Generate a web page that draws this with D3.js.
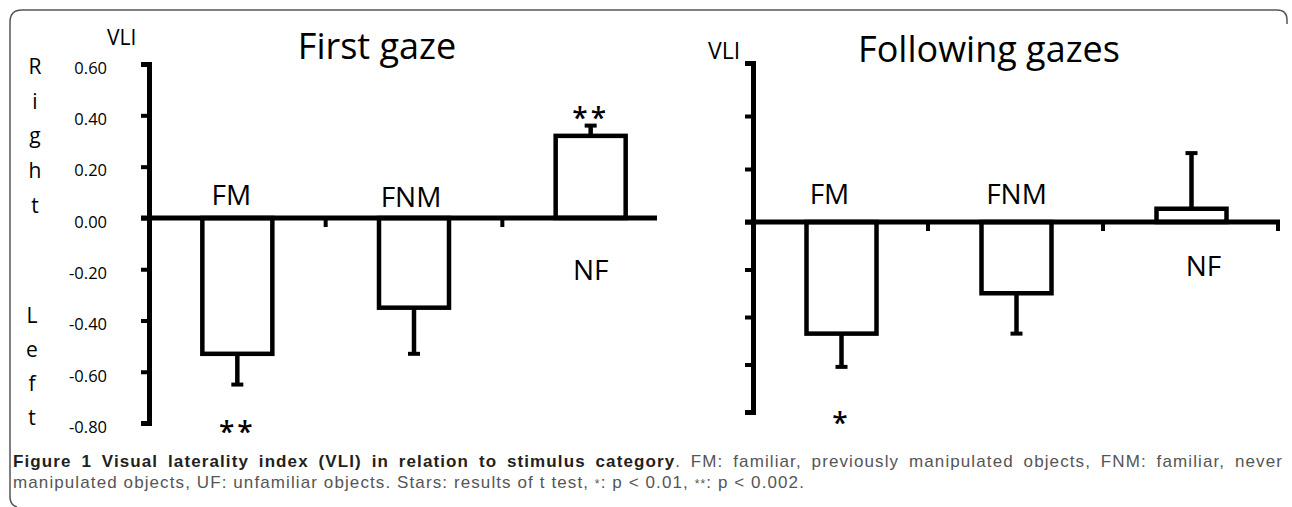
<!DOCTYPE html>
<html>
<head>
<meta charset="utf-8">
<script src="https://cdn.jsdelivr.net/npm/d3@7"></script>
<style>
  body { margin: 0; background: #fff; }
  text { font-family: "Open Sans", sans-serif; }
</style>
</head>
<body>
<div id="chart_div"></div>
<script>
// data
var categories = ["FM", "FNM", "NF"];
var firstMeans = [-0.53, -0.35, 0.32];
var firstErrors = [0.12, 0.18, 0.04];
var firstStars = ["**", "", "**"];
var followMeans = [-0.47, -0.30, 0.05];
var followErrors = [0.14, 0.17, 0.21];
var followStars = ["*", "", ""];
var tickValues = [0.6, 0.4, 0.2, 0, -0.2, -0.4, -0.6, -0.8];
var titles = ["First gaze", "Following gazes"];
var rightLetters = ["R", "i", "g", "h", "t"];
var leftLetters = ["L", "e", "f", "t"];
var captionBold = "Figure 1 Visual laterality index (VLI) in relation to stimulus category";
var captionRest = ". FM: familiar, previously manipulated objects, FNM: familiar, never";
var captionLine2 = ["manipulated objects, UF: unfamiliar objects. Stars: results of t test, ", "*", ": p < 0.01, ", "**", ": p < 0.002."];

var width = 1292, height = 507;

var svg = d3.select("#chart_div").append("svg")
    .attr("width", width)
    .attr("height", height);

// rounded frame
svg.append("path")
    .attr("d", "M1287,24 V20 Q1287,10 1277,10 H22 Q10,10 10,22 V497 Q10,505 17,507")
    .attr("fill", "none")
    .attr("stroke", "#555")
    .attr("stroke-width", 1.5);

function drawPanel(p, means, errors, stars) {
    var g = svg.append("g");

    var x = d3.scaleBand()
        .domain(categories)
        .range([p.x0, p.x1])
        .padding(0);
    // y is slightly uneven in the figure, so use a piecewise scale
    var y = d3.scaleLinear()
        .domain([-0.8, 0, 0.6])
        .range(p.yRange);

    var data = categories.map(function(c, i) {
        return {cat: c, mean: means[i], err: errors[i], star: stars[i], i: i};
    });
    var cx = function(d) { return x(d.cat) + x.bandwidth() / 2 + p.barShift; };

    // bars
    g.selectAll(".bar")
      .data(data)
      .enter().append("rect")
      .attr("class", "bar")
      .attr("x", function(d) { return cx(d) - 35; })
      .attr("width", 70)
      .attr("y", function(d) { return Math.min(y(d.mean), y(0)); })
      .attr("height", function(d) { return Math.abs(y(d.mean) - y(0)); })
      .attr("fill", "#fff")
      .attr("stroke", "#000")
      .attr("stroke-width", 4.5);

    // error bars
    var errEnd = function(d) { return y(d.mean + (d.mean < 0 ? -d.err : d.err)); };
    g.selectAll(".err")
      .data(data)
      .enter().append("line")
      .attr("x1", cx).attr("x2", cx)
      .attr("y1", function(d) { return y(d.mean); })
      .attr("y2", errEnd)
      .attr("stroke", "#000")
      .attr("stroke-width", 4.5);
    g.selectAll(".cap")
      .data(data)
      .enter().append("line")
      .attr("x1", function(d) { return cx(d) - 6; })
      .attr("x2", function(d) { return cx(d) + 6; })
      .attr("y1", errEnd).attr("y2", errEnd)
      .attr("stroke", "#000")
      .attr("stroke-width", 4);

    // zero line with category separators
    g.append("line")
      .attr("x1", p.x0 - 8).attr("x2", p.zeroEnd)
      .attr("y1", y(0)).attr("y2", y(0))
      .attr("stroke", "#000")
      .attr("stroke-width", 5);
    var seps = categories.slice(1).map(function(c) { return x(c); });
    if (p.endTick) seps.push(p.zeroEnd - 2);
    g.selectAll(".sep")
      .data(seps)
      .enter().append("line")
      .attr("x1", function(d) { return d; }).attr("x2", function(d) { return d; })
      .attr("y1", y(0)).attr("y2", y(0) + 9)
      .attr("stroke", "#000")
      .attr("stroke-width", 4);

    // y axis
    var axis = g.append("g")
        .attr("transform", "translate(" + p.x0 + ",0)")
        .call(d3.axisLeft(y)
            .tickValues(tickValues)
            .tickSize(8)
            .tickPadding(p.showLabels ? 34 : 0)
            .tickFormat(function(d) { return p.showLabels ? d.toFixed(2) : ""; }));
    axis.select(".domain").attr("stroke-width", 5).attr("stroke", "#000");
    axis.selectAll(".tick line").attr("stroke-width", 4).attr("stroke", "#000");
    axis.selectAll(".tick text")
        .attr("font-size", 16.5)
        .attr("fill", "#000")
        .attr("y", 4)
        .style("font-family", "'Open Sans', sans-serif");

    // category labels
    g.selectAll(".catlab")
      .data(data)
      .enter().append("text")
      .attr("x", function(d) { return cx(d) + p.labelShift[d.i]; })
      .attr("y", function(d) { return p.labelY[d.i]; })
      .attr("text-anchor", "middle")
      .attr("font-size", 28)
      .text(function(d) { return d.cat; });

    // significance stars (y = centre of the glyph + offset to baseline)
    g.selectAll(".star")
      .data(data.filter(function(d) { return d.star; }))
      .enter().append("text")
      .attr("x", cx)
      .attr("y", function(d) {
          return (d.mean < 0 ? y(-0.8) + p.starDrop : errEnd(d) - 13) + 15;
      })
      .attr("text-anchor", "middle")
      .attr("font-size", 28)
      .attr("font-weight", 600)
      .attr("letter-spacing", 3)
      .text(function(d) { return d.star; });

    // title and VLI
    g.append("text")
      .attr("x", p.titleX).attr("y", p.titleY)
      .attr("text-anchor", "middle")
      .attr("font-size", 36)
      .text(p.title);
    g.append("text")
      .attr("x", p.vliX).attr("y", p.vliY)
      .attr("font-size", p.vliSize)
      .text("VLI");
}

drawPanel({x0: 149, x1: 679, zeroEnd: 657, endTick: false, yRange: [423, 218, 64],
           showLabels: true, barShift: 0, labelShift: [-6, -3, 0], labelY: [205, 207, 280],
           starDrop: 4, title: titles[0], titleX: 377, titleY: 59, vliX: 107, vliY: 45, vliSize: 21},
          firstMeans, firstErrors, firstStars);
drawPanel({x0: 753, x1: 1278, zeroEnd: 1280, endTick: true, yRange: [412, 222, 63],
           showLabels: false, barShift: 1, labelShift: [-12, 0, 12], labelY: [204, 204, 276],
           starDrop: 6, title: titles[1], titleX: 989, titleY: 62, vliX: 708, vliY: 59, vliSize: 23},
          followMeans, followErrors, followStars);

// vertical "Right" / "Left"
svg.selectAll(".rl")
  .data(rightLetters)
  .enter().append("text")
  .attr("x", 35)
  .attr("y", function(d, i) { return 74 + i * 34.7; })
  .attr("text-anchor", "middle")
  .attr("font-size", 21)
  .text(function(d) { return d; });
svg.selectAll(".ll")
  .data(leftLetters)
  .enter().append("text")
  .attr("x", 32)
  .attr("y", function(d, i) { return 323 + i * 34; })
  .attr("text-anchor", "middle")
  .attr("font-size", 21)
  .text(function(d) { return d; });

// caption: line 2 is stretched to the reference width, line 1 justified
var capFont = "'Liberation Sans', Arial, sans-serif";
var cap2 = svg.append("text")
    .attr("x", 13).attr("y", 488)
    .attr("font-size", 17)
    .attr("fill", "#555")
    .style("font-family", capFont);
captionLine2.forEach(function(s) {
    var t = cap2.append("tspan").text(s);
    if (s.indexOf("*") === 0) t.attr("font-size", 12);
});
var n2 = captionLine2.join("").length;
var ls = Math.max(0, (792 - cap2.node().getComputedTextLength()) / n2);
cap2.attr("letter-spacing", ls);

var cap1 = svg.append("text")
    .attr("x", 13).attr("y", 467)
    .attr("font-size", 17)
    .attr("letter-spacing", ls)
    .style("font-family", capFont);
cap1.append("tspan").attr("font-weight", "bold").attr("fill", "#231f20").text(captionBold);
cap1.append("tspan").attr("fill", "#555").text(captionRest);
var natural = cap1.node().getComputedTextLength();
var spaces = (captionBold + captionRest).split(" ").length - 1;
cap1.attr("word-spacing", Math.max(0, (1283 - 13 - natural) / spaces));
</script>
</body>
</html>
